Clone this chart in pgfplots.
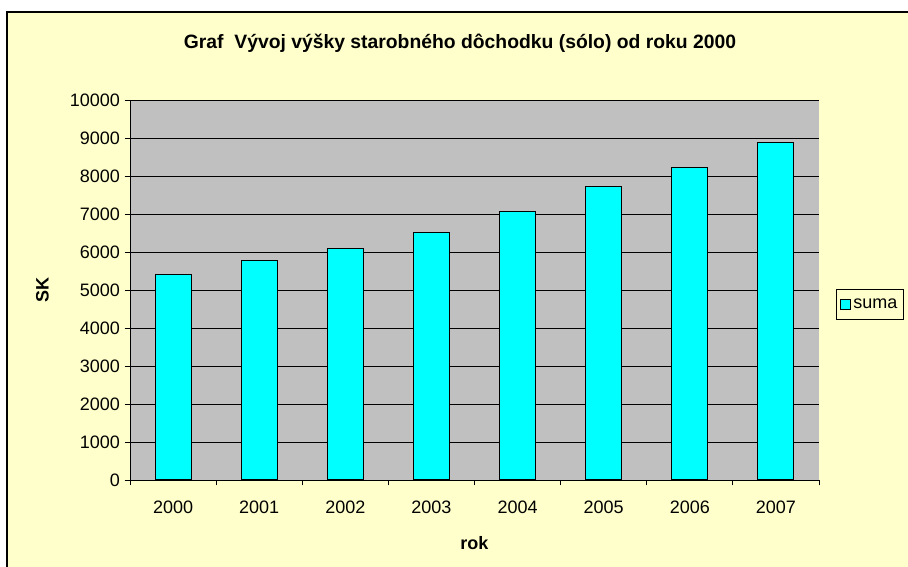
\documentclass[border=0pt]{standalone}
\usepackage{pgfplots}
\pgfplotsset{compat=1.18}
\usepackage{fontspec}
\setmainfont{Liberation Sans}
\definecolor{bgyellow}{HTML}{FFFFCC}
\definecolor{plotgray}{HTML}{C0C0C0}
\definecolor{barcyan}{HTML}{00FFFF}
\begin{document}
\begin{tikzpicture}
% page = 908x567 px, 1 px = 0.75pt
\path[use as bounding box] (0,0) rectangle (681pt,425.25pt);
\clip (0,0) rectangle (681pt,425.25pt);
\fill[white] (0,0) rectangle (681pt,425.25pt);
\fill[bgyellow] (5.25pt,-2pt) rectangle (690pt,416.25pt);
\draw[black, line width=0.9pt] (5.25pt,-2pt) -- (5.25pt,416.25pt) -- (690pt,416.25pt);
\node[font=\bfseries\fontsize{14.5}{17}\selectfont] at (345pt,393pt) {Graf\ \ Vývoj výšky starobného dôchodku (sólo) od roku 2000};
\begin{axis}[
  at={(97.5pt,65.25pt)}, anchor=south west,
  scale only axis,
  width=516.75pt, height=285pt,
  xmin=-0.5, xmax=7.5,
  ymin=0, ymax=10000,
  ytick distance=1000,
  scaled y ticks=false,
  xtick={0,...,7},
  xticklabels={2000,2001,2002,2003,2004,2005,2006,2007},
  minor xtick={-0.5,0.5,...,7.5},
  major x tick style={draw=none},
  tick align=outside,
  tick style={black, line width=0.6pt},
  major tick length=4pt, minor tick length=4pt,
  axis lines*=left,
  axis line style={black, line width=0.6pt},
  axis background/.style={fill=plotgray},
  ymajorgrids=true,
  grid style={black, line width=0.6pt},
  ticklabel style={font=\fontsize{13.5}{16}\selectfont},
  /pgf/number format/assume math mode=true,
  /pgf/number format/1000 sep={},
  xticklabel style={yshift=-8.5pt},
  xlabel={\bfseries rok},
  ylabel={\bfseries SK},
  label style={font=\fontsize{13.5}{16}\selectfont},
  xlabel style={yshift=-10pt},
  ylabel style={yshift=9pt},
  legend style={at={(1.0247,0.5026)}, anchor=north west, draw=black, fill=bgyellow,
    font=\fontsize{13.5}{16}\selectfont, inner xsep=2.5pt, inner ysep=5pt, line width=0.6pt},
  legend image code/.code={\draw[fill=barcyan, draw=black] (0pt,-3.75pt) rectangle (7.5pt,3.75pt);},
]
\addplot[ybar, bar width=27pt, fill=barcyan, draw=black, line width=0.8pt]
  coordinates {(0,5400)(1,5780)(2,6090)(3,6520)(4,7060)(5,7720)(6,8220)(7,8880)};
\addlegendentry{suma}
\end{axis}
\end{tikzpicture}
\end{document}
